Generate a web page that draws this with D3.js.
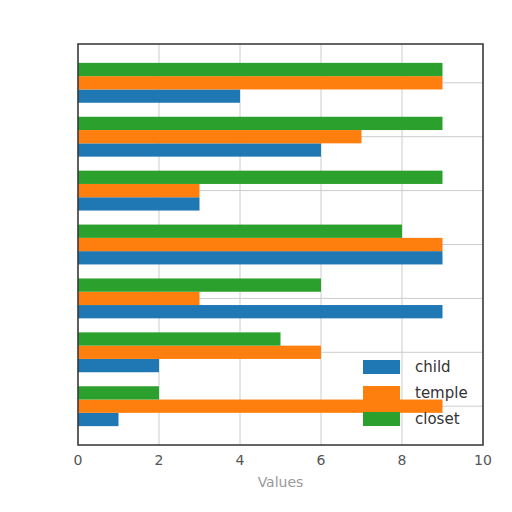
<!DOCTYPE html>
<html><head><meta charset="utf-8">
<script src="https://cdn.jsdelivr.net/npm/d3@7"></script>
<style>body{margin:0;background:#fff;font-family:"DejaVu Sans",sans-serif;}</style>
</head><body><svg id="chart" width="512" height="512"></svg>
<script>
// groups listed top to bottom
var groups = ["g1","g2","g3","g4","g5","g6","g7"];
var series = ["child","temple","closet"];
var child  = [4,6,3,9,9,2,1];
var temple = [9,7,3,9,3,6,9];
var closet = [9,9,9,8,6,5,2];
var colors = {child:"#1f77b4", temple:"#ff7f0e", closet:"#2ca02c"};
var xTicks = [0,2,4,6,8,10];

(function(){
var vals = {child:child, temple:temple, closet:closet};
var pLeft=78, pRight=483, pTop=44, pBottom=445;
var svg = d3.select("#chart");

var x = d3.scaleLinear().domain([0,10]).range([pLeft,pRight]);
var y = d3.scaleBand().domain(groups).range([pTop,pBottom]).paddingInner(0.26).paddingOuter(0.35);
// inside a group: closet on top, then temple, then child
var inner = d3.scaleBand().domain(["closet","temple","child"]).range([0,y.bandwidth()]);

svg.append("rect").attr("x",pLeft).attr("y",pTop).attr("width",pRight-pLeft).attr("height",pBottom-pTop).attr("fill","#fff");

//grid
svg.append("g").selectAll("line").data(xTicks).enter().append("line")
  .attr("x1",d=>x(d)).attr("x2",d=>x(d)).attr("y1",pTop).attr("y2",pBottom)
  .attr("stroke","#ccc");
svg.append("g").selectAll("line").data(groups).enter().append("line")
  .attr("x1",pLeft).attr("x2",pRight).attr("y1",d=>y(d)+y.bandwidth()/2).attr("y2",d=>y(d)+y.bandwidth()/2)
  .attr("stroke","#ccc");

//bars
series.forEach(function(s){
  svg.append("g").selectAll("rect").data(groups).enter().append("rect")
    .attr("x",x(0)).attr("y",d=>y(d)+inner(s))
    .attr("width",(d,i)=>x(vals[s][i])-x(0)).attr("height",inner.bandwidth())
    .attr("fill",colors[s]);
});

svg.append("rect").attr("x",pLeft).attr("y",pTop).attr("width",pRight-pLeft).attr("height",pBottom-pTop)
  .attr("fill","none").attr("stroke","#333").attr("stroke-width",1.5);

//x ticks
svg.append("g").selectAll("text").data(xTicks).enter().append("text")
  .attr("x",d=>x(d)).attr("y",pBottom+20).attr("text-anchor","middle")
  .attr("font-size",14).attr("fill","#555").text(d=>d);
svg.append("text").attr("x",(pLeft+pRight)/2).attr("y",487).attr("text-anchor","middle")
  .attr("font-size",14).attr("fill","#999").text("Values");

//legend
var lg = svg.append("g").selectAll("g").data(series).enter().append("g")
  .attr("transform",(d,i)=>"translate(363,"+(360+i*26)+")");
lg.append("rect").attr("width",37).attr("height",14).attr("fill",d=>colors[d]);
lg.append("text").attr("x",52).attr("y",12).attr("font-size",15).attr("fill","#333").text(d=>d);
})();
</script></body></html>
